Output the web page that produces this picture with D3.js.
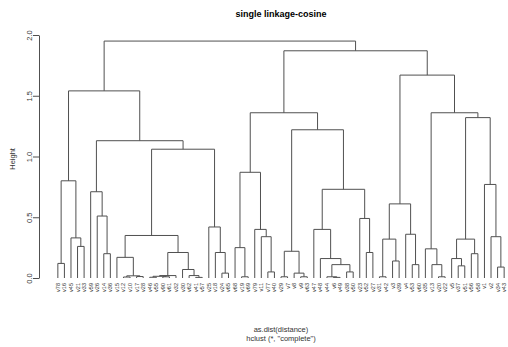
<!DOCTYPE html>
<html>
<head>
<meta charset="utf-8">
<script src="https://cdn.jsdelivr.net/npm/d3@7"></script>
<style>
  body { margin: 0; background: #fff; }
  text { font-family: "Liberation Sans", Arial, sans-serif; }
</style>
</head>
<body>
<div id="chart"></div>
<script>
// leaf labels in dendrogram order
const labels = ["v78","v16","v45","v21","v33","v59","v26","v14","v36","v15",
  "v12","v10","v17","v28","v46","v55","v90","v61","v32","v30",
  "v62","v41","v57","v25","v18","v24","v65","v68","v19","v69",
  "v79","v11","v77","v40","v29","v7","v8","v9","v63","v47",
  "v48","v44","v6","v49","v38","v50","v23","v52","v27","v31",
  "v42","v3","v39","v4","v53","v60","v35","v13","v20","v22",
  "v5","v37","v51","v56","v58","v1","v2","v34","v43"];

// hclust-style merge matrix: negative = leaf (1-based position), positive = earlier merge
const merge = [
  [-1,-2],[-4,-5],[-3,2],[1,3],[-8,-9],[-7,5],[-6,6],[-11,-12],[-13,-14],[8,9],
  [-10,10],[-15,-16],[-17,-18],[12,13],[14,-19],[-22,-23],[-21,16],[-20,17],[15,18],[11,19],
  [-26,-27],[-25,21],[-24,22],[20,23],[7,24],[4,25],[-29,-30],[-28,27],[-33,-34],[-32,29],
  [-31,30],[28,31],[-35,-36],[-38,-39],[-37,34],[33,35],[-43,-44],[-42,37],[-45,-46],[38,39],
  [-41,40],[-40,41],[-48,-49],[-47,43],[42,44],[36,45],[32,46],[-50,-51],[-52,-53],[48,49],
  [-55,-56],[-54,51],[50,52],[-59,-60],[-58,54],[-57,55],[-62,-63],[-61,57],[-64,-65],[58,59],
  [-68,-69],[-67,61],[-66,62],[60,63],[56,64],[53,65],[47,66],[26,67]];

const heights = [
  0.12,0.26,0.33,0.80,0.20,0.51,0.71,0.008,0.012,0.018,
  0.17,0.006,0.010,0.014,0.02,0.005,0.02,0.07,0.21,0.35,
  0.04,0.21,0.42,1.06,1.13,1.54,0.01,0.25,0.05,0.34,
  0.40,0.87,0.01,0.01,0.04,0.22,0.005,0.01,0.05,0.11,
  0.16,0.40,0.21,0.49,0.73,1.22,1.36,0.01,0.14,0.32,
  0.11,0.36,0.61,0.01,0.11,0.24,0.10,0.16,0.20,0.32,
  0.09,0.34,0.77,1.32,1.36,1.67,1.87,1.95];

const yTicks = [0, 0.5, 1, 1.5, 2];

const width = 508, height = 347;
const n = labels.length;
const ext = 0.04 * (n - 1);

const x = d3.scaleLinear().domain([1 - ext, n + ext]).range([40, 522]);
const y = d3.scaleLinear().domain([0, 2]).range([278, 35]);

const svg = d3.select('#chart')
  .append('svg')
  .attr('width', width)
  .attr('height', height);

// centre of each merge, in leaf units
const mx = [];
const cx = c => c < 0 ? -c : mx[c - 1];
const ch = c => c < 0 ? 0 : heights[c - 1];
merge.forEach(([a, b], i) => { mx[i] = (cx(a) + cx(b)) / 2; });

svg.append('g')
  .attr('fill', 'none')
  .attr('stroke', '#505050')
  .attr('stroke-width', 1)
  .selectAll('path')
  .data(merge)
  .join('path')
  .attr('d', ([a, b], i) => `M${x(cx(a))},${y(ch(a))}V${y(heights[i])}H${x(cx(b))}V${y(ch(b))}`);

// leaf labels
svg.append('g')
  .attr('font-size', 5.5)
  .attr('fill', '#333')
  .selectAll('text')
  .data(labels)
  .join('text')
  .attr('text-anchor', 'end')
  .attr('transform', (d, i) => `translate(${x(i + 1) + 2},283) rotate(-90)`)
  .text(d => d);

// y axis
const yAxis = d3.axisLeft(y).tickValues(yTicks).tickSize(6).tickSizeOuter(0).tickFormat(d3.format('.1f'));
svg.append('g')
  .attr('transform', `translate(${x.range()[0] - 1},0)`)
  .call(yAxis)
  .call(g => g.select('.domain').attr('stroke', '#505050'))
  .call(g => g.selectAll('.tick line').attr('stroke', '#505050'))
  .call(g => g.selectAll('.tick text')
    .attr('x', null).attr('dy', null)
    .attr('text-anchor', 'middle')
    .attr('transform', 'translate(-7,0) rotate(-90)')
    .attr('font-size', 7.5)
    .attr('fill', '#333'));

svg.append('text')
  .attr('transform', `translate(14.5,${y(0.98)}) rotate(-90)`)
  .attr('text-anchor', 'middle')
  .attr('font-size', 7.5)
  .attr('fill', '#333')
  .text('Height');

const mid = (x.range()[0] + x.range()[1]) / 2;

svg.append('text')
  .attr('x', mid).attr('y', 17)
  .attr('text-anchor', 'middle')
  .attr('font-size', 9)
  .attr('font-weight', 'bold')
  .text('single linkage-cosine');

svg.append('text')
  .attr('x', mid).attr('y', 332)
  .attr('text-anchor', 'middle')
  .attr('font-size', 7.5)
  .attr('fill', '#333')
  .text('as.dist(distance)');

svg.append('text')
  .attr('x', mid).attr('y', 341)
  .attr('text-anchor', 'middle')
  .attr('font-size', 7.5)
  .attr('fill', '#333')
  .text('hclust (*, "complete")');
</script>
</body>
</html>
